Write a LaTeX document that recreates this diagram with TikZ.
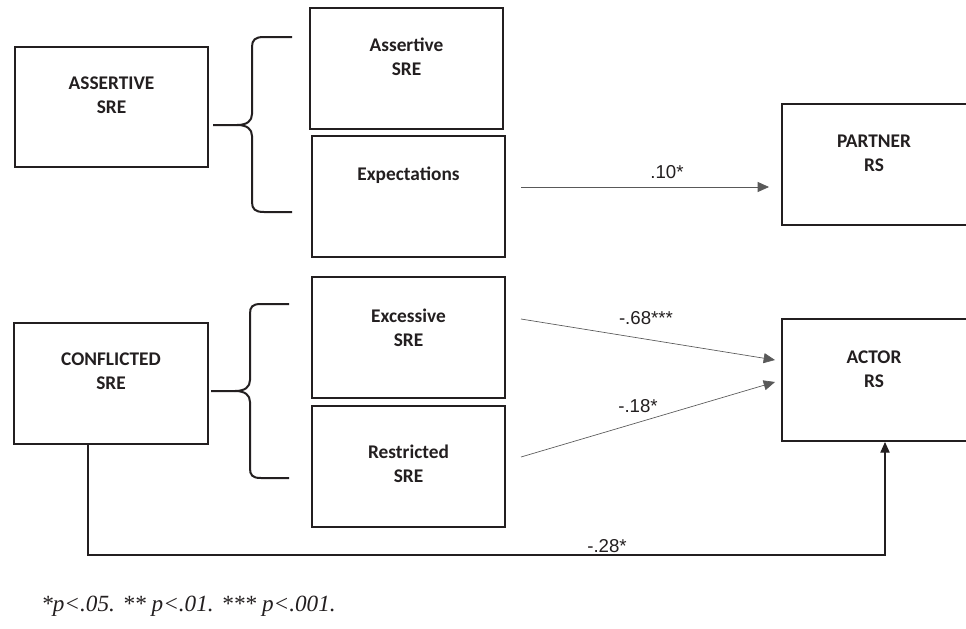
\documentclass[tikz,border=0pt]{standalone}
\usepackage{fontspec}
\setmainfont{Carlito}
\newfontfamily\arialf{Liberation Sans}
\newfontfamily\timesf{Liberation Serif}
\usetikzlibrary{arrows.meta,fit,calc}
\definecolor{ink}{HTML}{231F20}
\begin{document}
\begin{tikzpicture}[x=0.75pt,y=-0.75pt,
  box/.style={draw=ink, line width=1.5pt, inner sep=0pt},
  txt/.style={font=\fontsize{14.5}{17.75}\selectfont\bfseries, align=center, inner sep=0pt, anchor=north, text=ink},
  coef/.style={font=\arialf\fontsize{14}{16}\selectfont, inner sep=0pt, text=ink},
  thinarrow/.style={draw=black!65, line width=0.5pt, -{Triangle[length=8.5pt,width=7.5pt]}},
  bottomline/.style={draw=ink, line width=0.8pt, -{Triangle[length=8pt,width=7pt]}},
  bracepath/.style={draw=ink, line width=1.5pt}]
\clip (0,0) rectangle (966,628);
\fill[white] (0,0) rectangle (966,628);
% boxes
\node[box, fit={(15,47) (208,167)}] (as) {};
\node[box, fit={(310,8) (503,129)}] (asr) {};
\node[box, fit={(312,136) (505,257)}] (exp) {};
\node[box, fit={(782,104) (978,225)}] (partner) {};
\node[box, fit={(14,323) (208,444)}] (conf) {};
\node[box, fit={(312,277) (505,398)}] (exc) {};
\node[box, fit={(312,406) (505,527)}] (res) {};
\node[box, fit={(782,319) (978,441)}] (actor) {};
% texts
\node[txt] (asT) at ($(as.north)+(0,31)$) {ASSERTIVE\\SRE};
\node[txt] (asrT) at ($(asr.north)+(0,31)$) {Assertive\\SRE};
\node[txt] (expT) at ($(exp.north)+(0,32)$) {Expectations};
\node[txt] (partnerT) at (874,135) {PARTNER\\RS};
\node[txt] (confT) at ($(conf.north)+(0,31)$) {CONFLICTED\\SRE};
\node[txt] (excT) at ($(exc.north)+(0,33)$) {Excessive\\SRE};
\node[txt] (resT) at ($(res.north)+(0,40)$) {Restricted\\SRE};
\node[txt] (actorT) at (874,351) {ACTOR\\RS};
% braces
\draw[bracepath] (292,37) -- (264,37) .. controls (255,37) and (252,40) .. (252,47) -- (252,114)
  .. controls (252,121) and (247,125) .. (237,125) -- (213,125);
\draw[bracepath] (292,212) -- (264,212) .. controls (255,212) and (252,209) .. (252,202) -- (252,136)
  .. controls (252,129) and (247,125) .. (237,125);
\draw[bracepath] (289,304) -- (261,304) .. controls (252,304) and (250,307) .. (250,314) -- (250,380)
  .. controls (250,387) and (245,391) .. (235,391) -- (211,391);
\draw[bracepath] (289,478) -- (261,478) .. controls (252,478) and (250,475) .. (250,468) -- (250,402)
  .. controls (250,395) and (245,391) .. (235,391);
% arrows
\draw[thinarrow] ($(exp.east)+(15,-9.5)$) -- ($(partner.west)+(-12,22.5)$);
\draw[thinarrow] ($(exc.east)+(15,-18.5)$) -- ($(actor.west)+(-6,-20)$);
\draw[thinarrow] ($(res.east)+(15,-9.5)$) -- ($(actor.west)+(-6,2)$);
\coordinate (c1) at (88,555);
\coordinate (c2) at (885,555);
\draw[bottomline] (conf.south -| c1) -- (c1) -- (c2) -- (actor.south -| c2);
% coefficients
\node[coef] (l1) at (667,172) {.10*};
\node[coef] (l2) at (646,318) {-.68***};
\node[coef] (l3) at (638,406) {-.18*};
\node[coef] (l4) at (607,546) {-.28*};
% note
\node[font=\timesf\itshape\fontsize{17.4}{20}\selectfont, anchor=base west, inner sep=0pt, text=ink] (note) at (41,611) {*p<.05. ** p<.01. *** p<.001.};
\end{tikzpicture}
\end{document}
